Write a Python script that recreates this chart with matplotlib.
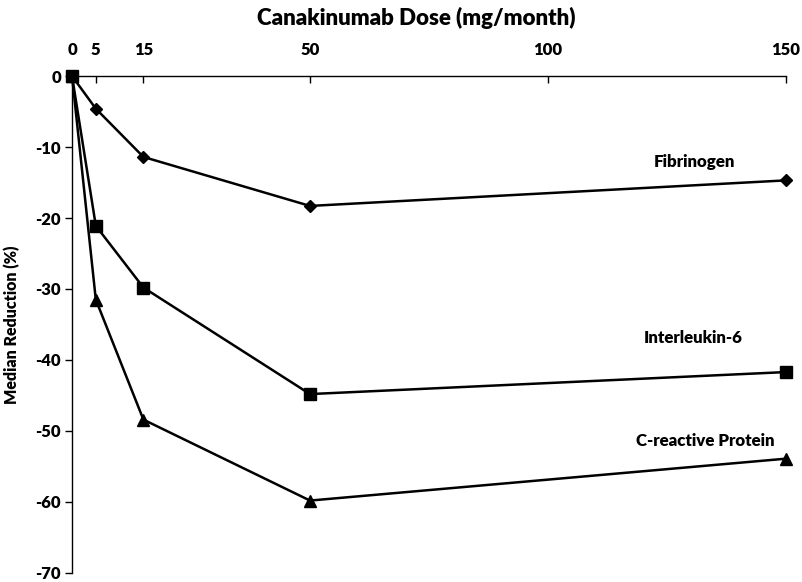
import matplotlib.pyplot as plt

plt.rcParams['font.family'] = ['Lato', 'DejaVu Sans']
plt.rcParams['font.weight'] = 'heavy'
plt.rcParams['axes.unicode_minus'] = False

# Data
doses = [0, 5, 15, 50, 150]
fibrinogen = [0, -4.6, -11.4, -18.3, -14.7]
interleukin6 = [0, -21.1, -29.8, -44.8, -41.7]
crp = [0, -31.5, -48.4, -59.8, -53.9]

x_ticks = [0, 5, 15, 50, 100, 150]
y_ticks = [0, -10, -20, -30, -40, -50, -60, -70]

fig = plt.figure(figsize=(8.02, 5.82), dpi=100)
ax = fig.add_axes([0.0898, 0.0155, 0.8902, 0.8539])

ax.plot(doses, fibrinogen, '-D', color='black', lw=1.8, ms=6.5, clip_on=False)
ax.plot(doses, interleukin6, '-s', color='black', lw=1.8, ms=9, clip_on=False)
ax.plot(doses, crp, '-^', color='black', lw=1.8, ms=8.5, clip_on=False)

# series labels
ax.text(130.7, -12.1, 'Fibrinogen', ha='center', va='center', fontsize=12.2, fontweight='heavy')
ax.text(130.5, -36.9, 'Interleukin-6', ha='center', va='center', fontsize=12.2, fontweight='heavy')
ax.text(133.0, -51.4, 'C-reactive Protein', ha='center', va='center', fontsize=12.2, fontweight='heavy')

ax.set_xlim(0, 150)
ax.set_ylim(-70, 0)
ax.xaxis.tick_top()
ax.xaxis.set_label_position('top')
ax.set_xticks(x_ticks)
ax.set_yticks(y_ticks)
ax.tick_params(axis='x', direction='in', length=5, width=1, labelsize=12, pad=13)
ax.tick_params(axis='y', direction='out', length=5, width=1, labelsize=12, pad=3)
for lbl in ax.get_xticklabels() + ax.get_yticklabels():
    lbl.set_fontweight('heavy')

ax.set_xlabel('Canakinumab Dose (mg/month)', fontsize=16, fontweight='heavy')
ax.xaxis.set_label_coords(0.4825, 1.1026)
ax.set_ylabel('Median Reduction (%)', fontsize=11.5, fontweight='heavy')
ax.yaxis.set_label_coords(-0.0728, 0.5)

ax.spines['right'].set_visible(False)
ax.spines['bottom'].set_visible(False)
ax.spines['top'].set_linewidth(1)
ax.spines['left'].set_linewidth(1)

fig.savefig('out.png', dpi=100)
